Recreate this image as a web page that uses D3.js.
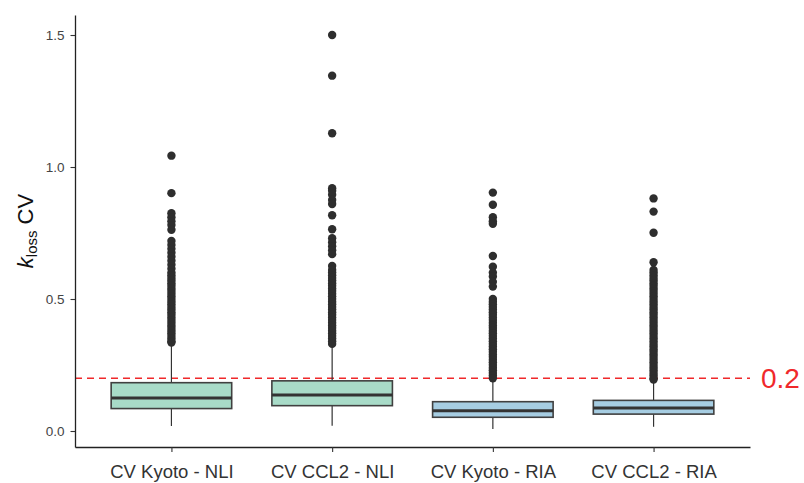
<!DOCTYPE html>
<html>
<head>
<meta charset="utf-8">
<script src="https://cdn.jsdelivr.net/npm/d3@7"></script>
<style>
  body { margin: 0; background: #fff; }
  svg { display: block; font-family: "Liberation Sans", Arial, sans-serif; }
</style>
</head>
<body>
<div id="chart"></div>
<script>
// categories and box statistics
const categories = ['CV Kyoto - NLI', 'CV CCL2 - NLI', 'CV Kyoto - RIA', 'CV CCL2 - RIA'];
const groupType = ['NLI', 'NLI', 'RIA', 'RIA'];
const lowerWhisker = [0.019, 0.020, 0.008, 0.016];
const q1 = [0.085, 0.096, 0.052, 0.064];
const median = [0.125, 0.136, 0.077, 0.087];
const q3 = [0.183, 0.190, 0.111, 0.116];
const upperWhisker = [0.330, 0.325, 0.195, 0.190];

const outliersKyotoNLI = [1.043, 0.901, 0.825, 0.81, 0.795, 0.78, 0.762, 0.72, 0.705, 0.69, 0.675, 0.66,
  0.645, 0.63, 0.615, 0.60, 0.59, 0.58, 0.57, 0.56, 0.55, 0.54, 0.53, 0.52, 0.51, 0.50, 0.49, 0.48,
  0.47, 0.46, 0.45, 0.44, 0.43, 0.42, 0.41, 0.40, 0.39, 0.38, 0.37, 0.36, 0.35, 0.34, 0.335];
const outliersCCL2NLI = [1.50, 1.346, 1.128, 0.92, 0.91, 0.895, 0.875, 0.86, 0.817, 0.764, 0.73, 0.715,
  0.70, 0.685, 0.67, 0.625, 0.61, 0.60, 0.59, 0.58, 0.57, 0.56, 0.55, 0.54, 0.53, 0.52, 0.51, 0.50,
  0.49, 0.48, 0.47, 0.46, 0.45, 0.44, 0.43, 0.42, 0.41, 0.40, 0.39, 0.38, 0.37, 0.36, 0.35, 0.34, 0.33];
const outliersKyotoRIA = [0.903, 0.857, 0.81, 0.795, 0.785, 0.663, 0.622, 0.60, 0.585, 0.565, 0.547,
  0.50, 0.49, 0.48, 0.47, 0.46, 0.45, 0.44, 0.43, 0.42, 0.41, 0.40, 0.39, 0.38, 0.37, 0.36, 0.35,
  0.34, 0.33, 0.32, 0.31, 0.30, 0.29, 0.28, 0.27, 0.26, 0.25, 0.24, 0.23, 0.22, 0.21, 0.20];
const outliersCCL2RIA = [0.881, 0.831, 0.751, 0.639, 0.61, 0.60, 0.59, 0.58, 0.57, 0.56, 0.55, 0.54,
  0.53, 0.52, 0.51, 0.50, 0.49, 0.48, 0.47, 0.46, 0.45, 0.44, 0.43, 0.42, 0.41, 0.40, 0.39, 0.38,
  0.37, 0.36, 0.35, 0.34, 0.33, 0.32, 0.31, 0.30, 0.29, 0.28, 0.27, 0.26, 0.25, 0.24, 0.23, 0.22,
  0.21, 0.20, 0.195];
const outliers = [outliersKyotoNLI, outliersCCL2NLI, outliersKyotoRIA, outliersCCL2RIA];

const yTicks = [0, 0.5, 1.0, 1.5];
const threshold = 0.2;

const width = 804, height = 483;
const margin = { left: 75, right: 750, top: 15, bottom: 447 };

const fills = { NLI: '#a8dbc8', RIA: '#a6cde2' };

const svg = d3.select('#chart').append('svg')
  .attr('width', width)
  .attr('height', height);

const x = d3.scalePoint()
  .domain(categories)
  .range([margin.left, margin.right])
  .padding(0.6);

const y = d3.scaleLinear()
  .domain([-0.0606, 1.5758])
  .range([margin.bottom, margin.top]);

const boxW = x.step() * 0.75;

// threshold line (drawn under boxes)
svg.append('line')
  .attr('x1', margin.left).attr('x2', margin.right)
  .attr('y1', y(threshold)).attr('y2', y(threshold))
  .attr('stroke', '#f0292b')
  .attr('stroke-width', 1.5)
  .attr('stroke-dasharray', '7,5');

const groups = svg.selectAll('.box')
  .data(categories.map((c, i) => ({ c, i })))
  .enter().append('g')
  .attr('class', 'box');

// whiskers
groups.append('line')
  .attr('x1', d => x(d.c)).attr('x2', d => x(d.c))
  .attr('y1', d => y(upperWhisker[d.i])).attr('y2', d => y(q3[d.i]))
  .attr('stroke', '#333').attr('stroke-width', 1.2);
groups.append('line')
  .attr('x1', d => x(d.c)).attr('x2', d => x(d.c))
  .attr('y1', d => y(q1[d.i])).attr('y2', d => y(lowerWhisker[d.i]))
  .attr('stroke', '#333').attr('stroke-width', 1.2);

// boxes
groups.append('rect')
  .attr('x', d => x(d.c) - boxW / 2)
  .attr('width', boxW)
  .attr('y', d => y(q3[d.i]))
  .attr('height', d => y(q1[d.i]) - y(q3[d.i]))
  .attr('fill', d => fills[groupType[d.i]])
  .attr('stroke', '#404040')
  .attr('stroke-width', 1.6);

// medians
groups.append('line')
  .attr('x1', d => x(d.c) - boxW / 2).attr('x2', d => x(d.c) + boxW / 2)
  .attr('y1', d => y(median[d.i])).attr('y2', d => y(median[d.i]))
  .attr('stroke', '#333').attr('stroke-width', 3);

// outliers
groups.selectAll('circle')
  .data(d => outliers[d.i].map(v => ({ c: d.c, v })))
  .enter().append('circle')
  .attr('cx', d => x(d.c))
  .attr('cy', d => y(d.v))
  .attr('r', 4.2)
  .attr('fill', '#2e2e2e');

// axes
const yAxis = svg.append('g')
  .attr('transform', `translate(${margin.left},0)`)
  .call(d3.axisLeft(y).tickValues(yTicks).tickFormat(d3.format('.1f')).tickSize(4.5).tickPadding(6).tickSizeOuter(0));
yAxis.select('.domain').attr('stroke', '#222').attr('stroke-width', 1.3);
yAxis.selectAll('.tick line').attr('stroke', '#333').attr('stroke-width', 1.1);
yAxis.selectAll('.tick text').attr('font-size', 13.5).attr('fill', '#444')
  .attr('font-family', '"Liberation Sans", Arial, sans-serif');

const xAxis = svg.append('g')
  .attr('transform', `translate(0,${margin.bottom})`)
  .call(d3.axisBottom(x).tickSize(5).tickPadding(13).tickSizeOuter(0));
xAxis.select('.domain').attr('stroke', '#222').attr('stroke-width', 1.3);
xAxis.selectAll('.tick line').attr('stroke', '#333').attr('stroke-width', 1.1);
xAxis.selectAll('.tick text').attr('font-size', 18.5).attr('fill', '#333')
  .attr('font-family', '"Liberation Sans", Arial, sans-serif');

// y title: k_loss CV
const title = svg.append('text')
  .attr('transform', 'translate(33,231) rotate(-90)')
  .attr('text-anchor', 'middle')
  .attr('font-size', 22)
  .attr('fill', '#111');
title.append('tspan').attr('font-style', 'italic').text('k');
title.append('tspan').attr('font-size', 15).attr('dy', 4).text('loss');
title.append('tspan').attr('dy', -4).text(' CV');

// threshold label
svg.append('text')
  .attr('x', 761)
  .attr('y', y(threshold) + 10)
  .attr('font-size', 28)
  .attr('fill', '#f0292b')
  .text('0.2');
</script>
</body>
</html>
